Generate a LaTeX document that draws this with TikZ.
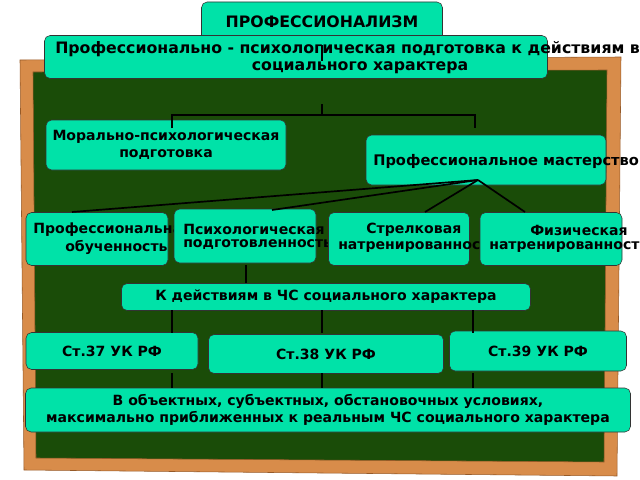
\documentclass[tikz,border=0pt]{standalone}
\usepackage{fontspec}
\setmainfont{DejaVu Sans}
\definecolor{menthe}{RGB}{0,226,168}
\definecolor{tableau}{RGB}{26,76,8}
\definecolor{cadre}{RGB}{216,140,74}
\definecolor{cadrefonce}{RGB}{150,90,40}
\begin{document}
\begin{tikzpicture}[x=0.025cm,y=-0.025cm]
		% définition des styles
		\tikzstyle{bloc}=[rectangle,draw=black!80,fill=menthe,rounded corners=4pt,text=black,font=\fontsize{10}{12}\selectfont\bfseries,inner sep=0pt]
		\tikzstyle{grand}=[font=\fontsize{11.2}{13}\selectfont\bfseries,inner sep=0pt]
		\tikzstyle{texte}=[font=\fontsize{10}{12}\selectfont\bfseries,inner sep=0pt,anchor=west]
		\tikzstyle{taille}=[minimum width=#1*0.025cm]
		\tikzstyle{haut}=[minimum height=#1*0.025cm]
		\tikzstyle{lien}=[very thick,black]
		\useasboundingbox (0,0) rectangle (640,480);
		\clip (0,0) rectangle (640,480);
		% le tableau
		\fill[cadre,draw=cadrefonce] (20,60) -- (621,57) -- (617,476) -- (24,470) -- cycle;
		\fill[tableau,draw=cadrefonce] (33,72) -- (607,70) -- (604,462) -- (36,458) -- cycle;
		% les nœuds
		\node[bloc,grand,taille=241,haut=40] (pro) at (322,22) {ПРОФЕССИОНАЛИЗМ};
		\node[bloc,taille=503,haut=43] (ppp) at (296,57) {};
		\node[grand,anchor=west] (ppt) at (55,49) {Профессионально - психологическая подготовка к действиям в ЧС};
		\node[grand] (ppt2) at (360,68) {социального характера};
		\node[bloc,taille=240,haut=50,align=center] (mor) at (166,145) {Морально-психологическая\\подготовка};
		\node[bloc,taille=240,haut=50] (mas) at (486,160) {};
		\node[texte,font=\fontsize{10.4}{12}\selectfont\bfseries] (mast) at (373,161) {Профессиональное мастерство};
		\node[bloc,taille=142,haut=53] (obu) at (97,239) {};
		\node[texte] (obut) at (33,230) {Профессиональная};
		\node[texte] (obut2) at (65,247) {обученность};
		\node[bloc,taille=142,haut=54] (psy) at (245,236) {};
		\node[texte] (psyt) at (183,229) {Психологическая};
		\node[texte] (psyt2) at (183,245) {подготовленность};
		\node[bloc,taille=141,haut=53] (str) at (399,239) {};
		\node[texte] (strt) at (366,230) {Стрелковая};
		\node[texte] (strt2) at (338,247) {натренированность};
		\node[bloc,taille=142,haut=53] (fiz) at (551,239) {};
		\node[texte] (fizt) at (530,230) {Физическая};
		\node[texte] (fizt2) at (489,247) {натренированность};
		\node[bloc,taille=409,haut=27] (chs) at (326,297) {К действиям в ЧС социального характера};
		\node[bloc,taille=172,haut=37] (s37) at (112,351) {Ст.37 УК РФ};
		\node[bloc,taille=235,haut=39] (s38) at (326,354) {Ст.38 УК РФ};
		\node[bloc,taille=177,haut=40] (s39) at (538,351) {Ст.39 УК РФ};
		\node[bloc,taille=605,haut=44,align=center] (obj) at (328,410) {В объектных, субъектных, обстановочных условиях,\\максимально приближенных к реальным ЧС социального характера};
		% les liens
		\draw[thick] (322,45) -- (322,61);
		\coordinate (fourche) at (322,115);
		\draw[lien] (322,104) -- (fourche);
		\draw[lien] (172,128) |- (fourche) -| (475,128);
		\coordinate (pied) at (478,180);
		\draw[lien] (pied) -- (72,212);
		\draw[lien] (pied) -- (272,210);
		\draw[lien] (pied) -- (425,212);
		\draw[lien] (pied) -- (525,212);
		\draw[lien] (246,265) -- (246,283);
		\foreach \x in {172,322,473} {
			\draw[lien] (\x,310) -- (\x,333);
			\draw[lien] (\x,373) -- (\x,388);
		}
	\end{tikzpicture}
\end{document}
